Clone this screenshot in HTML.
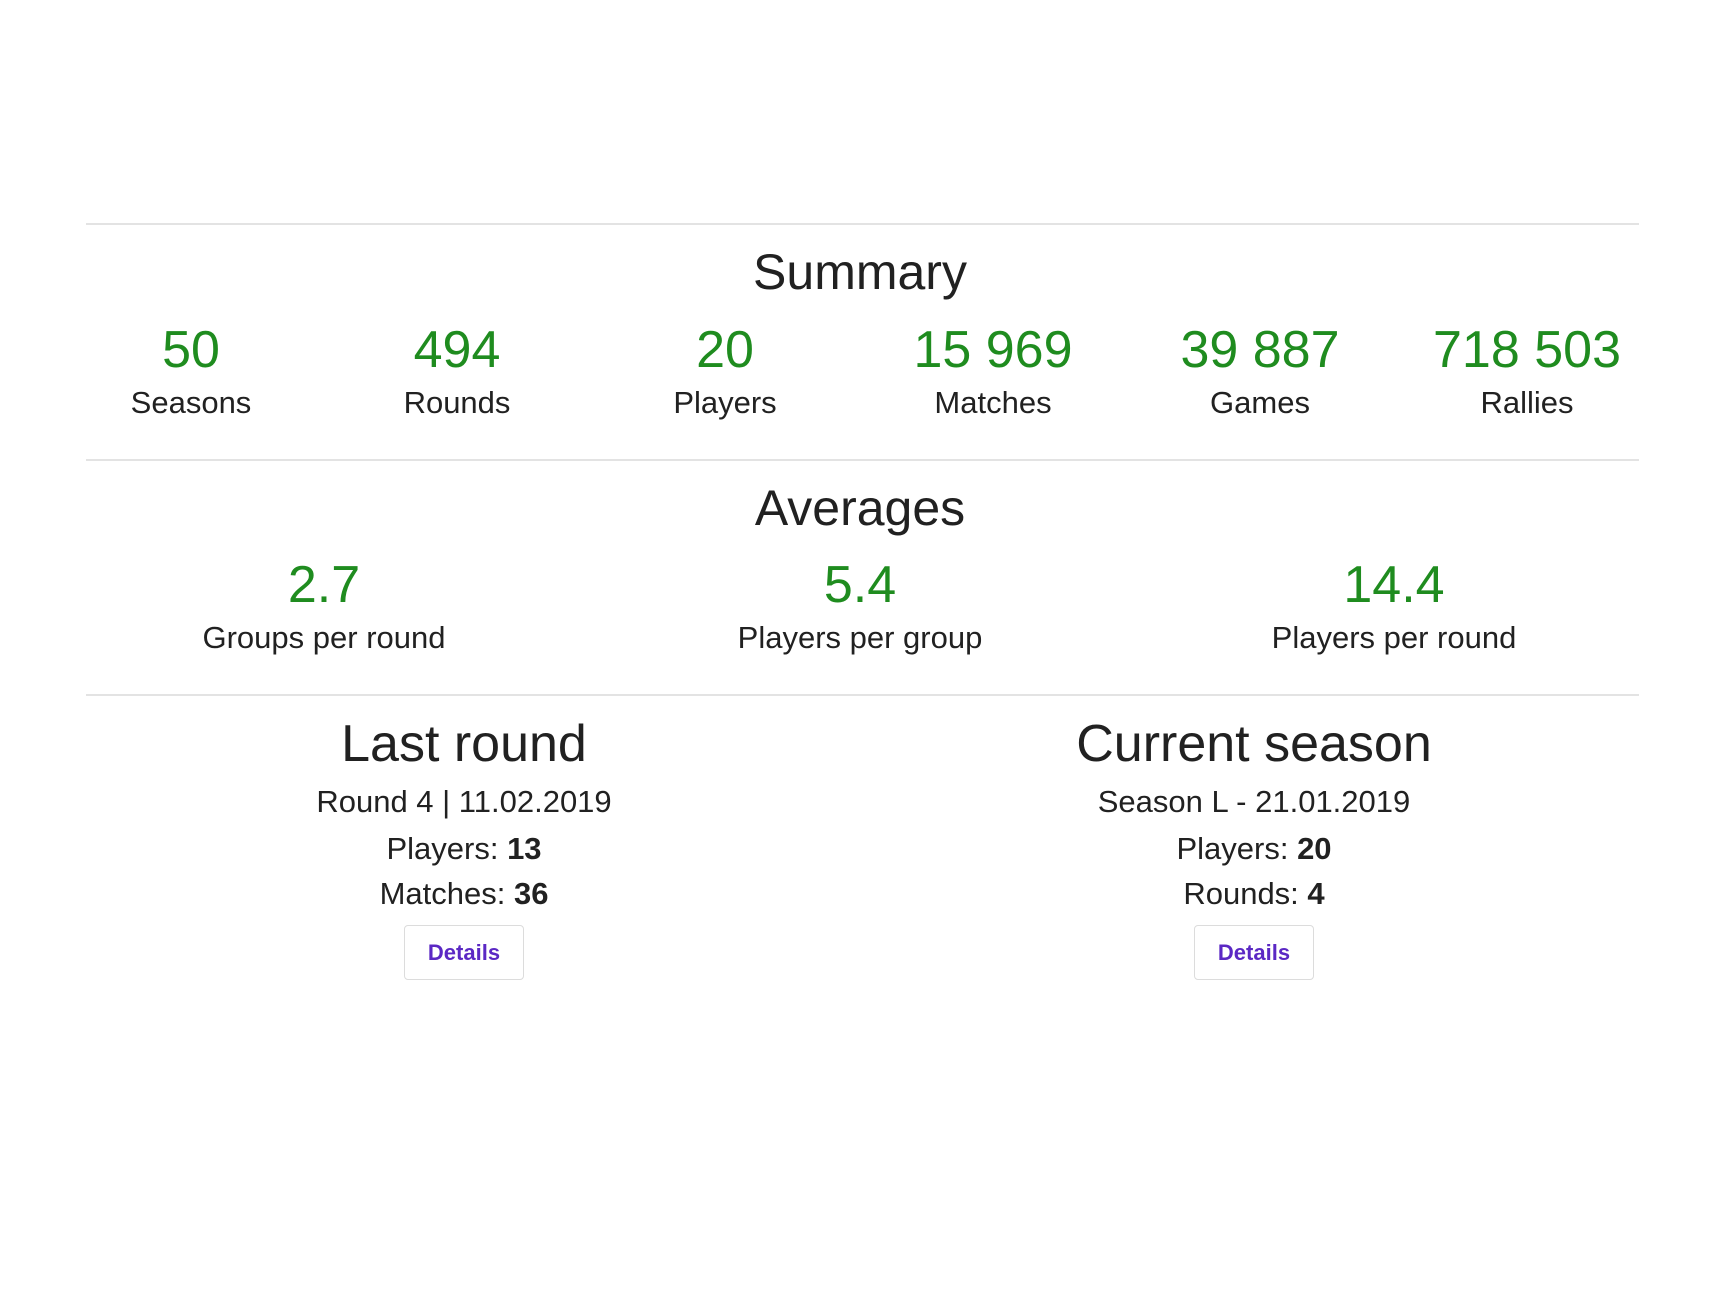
<!DOCTYPE html>
<html><head><meta charset="utf-8"><style>
html,body{margin:0;padding:0;background:#fff;}
body{width:1728px;height:1292px;position:relative;overflow:hidden;font-family:"Liberation Sans",sans-serif;color:#212121;}
.hr{position:absolute;left:86px;width:1553px;height:2px;background:#e3e3e3;}
.t{position:absolute;width:500px;margin-left:-250px;text-align:center;white-space:nowrap;}
.g{color:#1f8c1f;font-size:52px;line-height:60px;}
.l{font-size:31px;line-height:40px;}
.h{font-size:50px;line-height:60px;}
.b{font-weight:bold;}
.btn{position:absolute;width:120px;height:55px;border:1px solid #dcdcdc;border-radius:4px;box-sizing:border-box;text-align:center;line-height:53px;color:#5b28c4;font-weight:bold;font-size:22px;}
</style></head><body>
<div class="hr" style="top:223px"></div>
<div class="hr" style="top:459px"></div>
<div class="hr" style="top:694px"></div>

<div class="t h" style="left:860px;top:242px">Summary</div>
<div class="t g" style="left:191px;top:320px">50</div>
<div class="t g" style="left:457px;top:320px">494</div>
<div class="t g" style="left:725px;top:320px">20</div>
<div class="t g" style="left:993px;top:320px">15 969</div>
<div class="t g" style="left:1260px;top:320px">39 887</div>
<div class="t g" style="left:1527px;top:320px">718 503</div>
<div class="t l" style="left:191px;top:383px">Seasons</div>
<div class="t l" style="left:457px;top:383px">Rounds</div>
<div class="t l" style="left:725px;top:383px">Players</div>
<div class="t l" style="left:993px;top:383px">Matches</div>
<div class="t l" style="left:1260px;top:383px">Games</div>
<div class="t l" style="left:1527px;top:383px">Rallies</div>

<div class="t h" style="left:860px;top:478px">Averages</div>
<div class="t g" style="left:324px;top:555px">2.7</div>
<div class="t g" style="left:860px;top:555px">5.4</div>
<div class="t g" style="left:1394px;top:555px">14.4</div>
<div class="t l" style="left:324px;top:618px">Groups per round</div>
<div class="t l" style="left:860px;top:618px">Players per group</div>
<div class="t l" style="left:1394px;top:618px">Players per round</div>

<div class="t h" style="left:464px;top:714px;font-size:52px">Last round</div>
<div class="t l" style="left:464px;top:782px">Round 4 | 11.02.2019</div>
<div class="t l" style="left:464px;top:829px">Players: <span class="b">13</span></div>
<div class="t l" style="left:464px;top:874px">Matches: <span class="b">36</span></div>
<div class="btn" style="left:404px;top:925px">Details</div>

<div class="t h" style="left:1254px;top:714px;font-size:52px">Current season</div>
<div class="t l" style="left:1254px;top:782px">Season L - 21.01.2019</div>
<div class="t l" style="left:1254px;top:829px">Players: <span class="b">20</span></div>
<div class="t l" style="left:1254px;top:874px">Rounds: <span class="b">4</span></div>
<div class="btn" style="left:1194px;top:925px">Details</div>
</body></html>
